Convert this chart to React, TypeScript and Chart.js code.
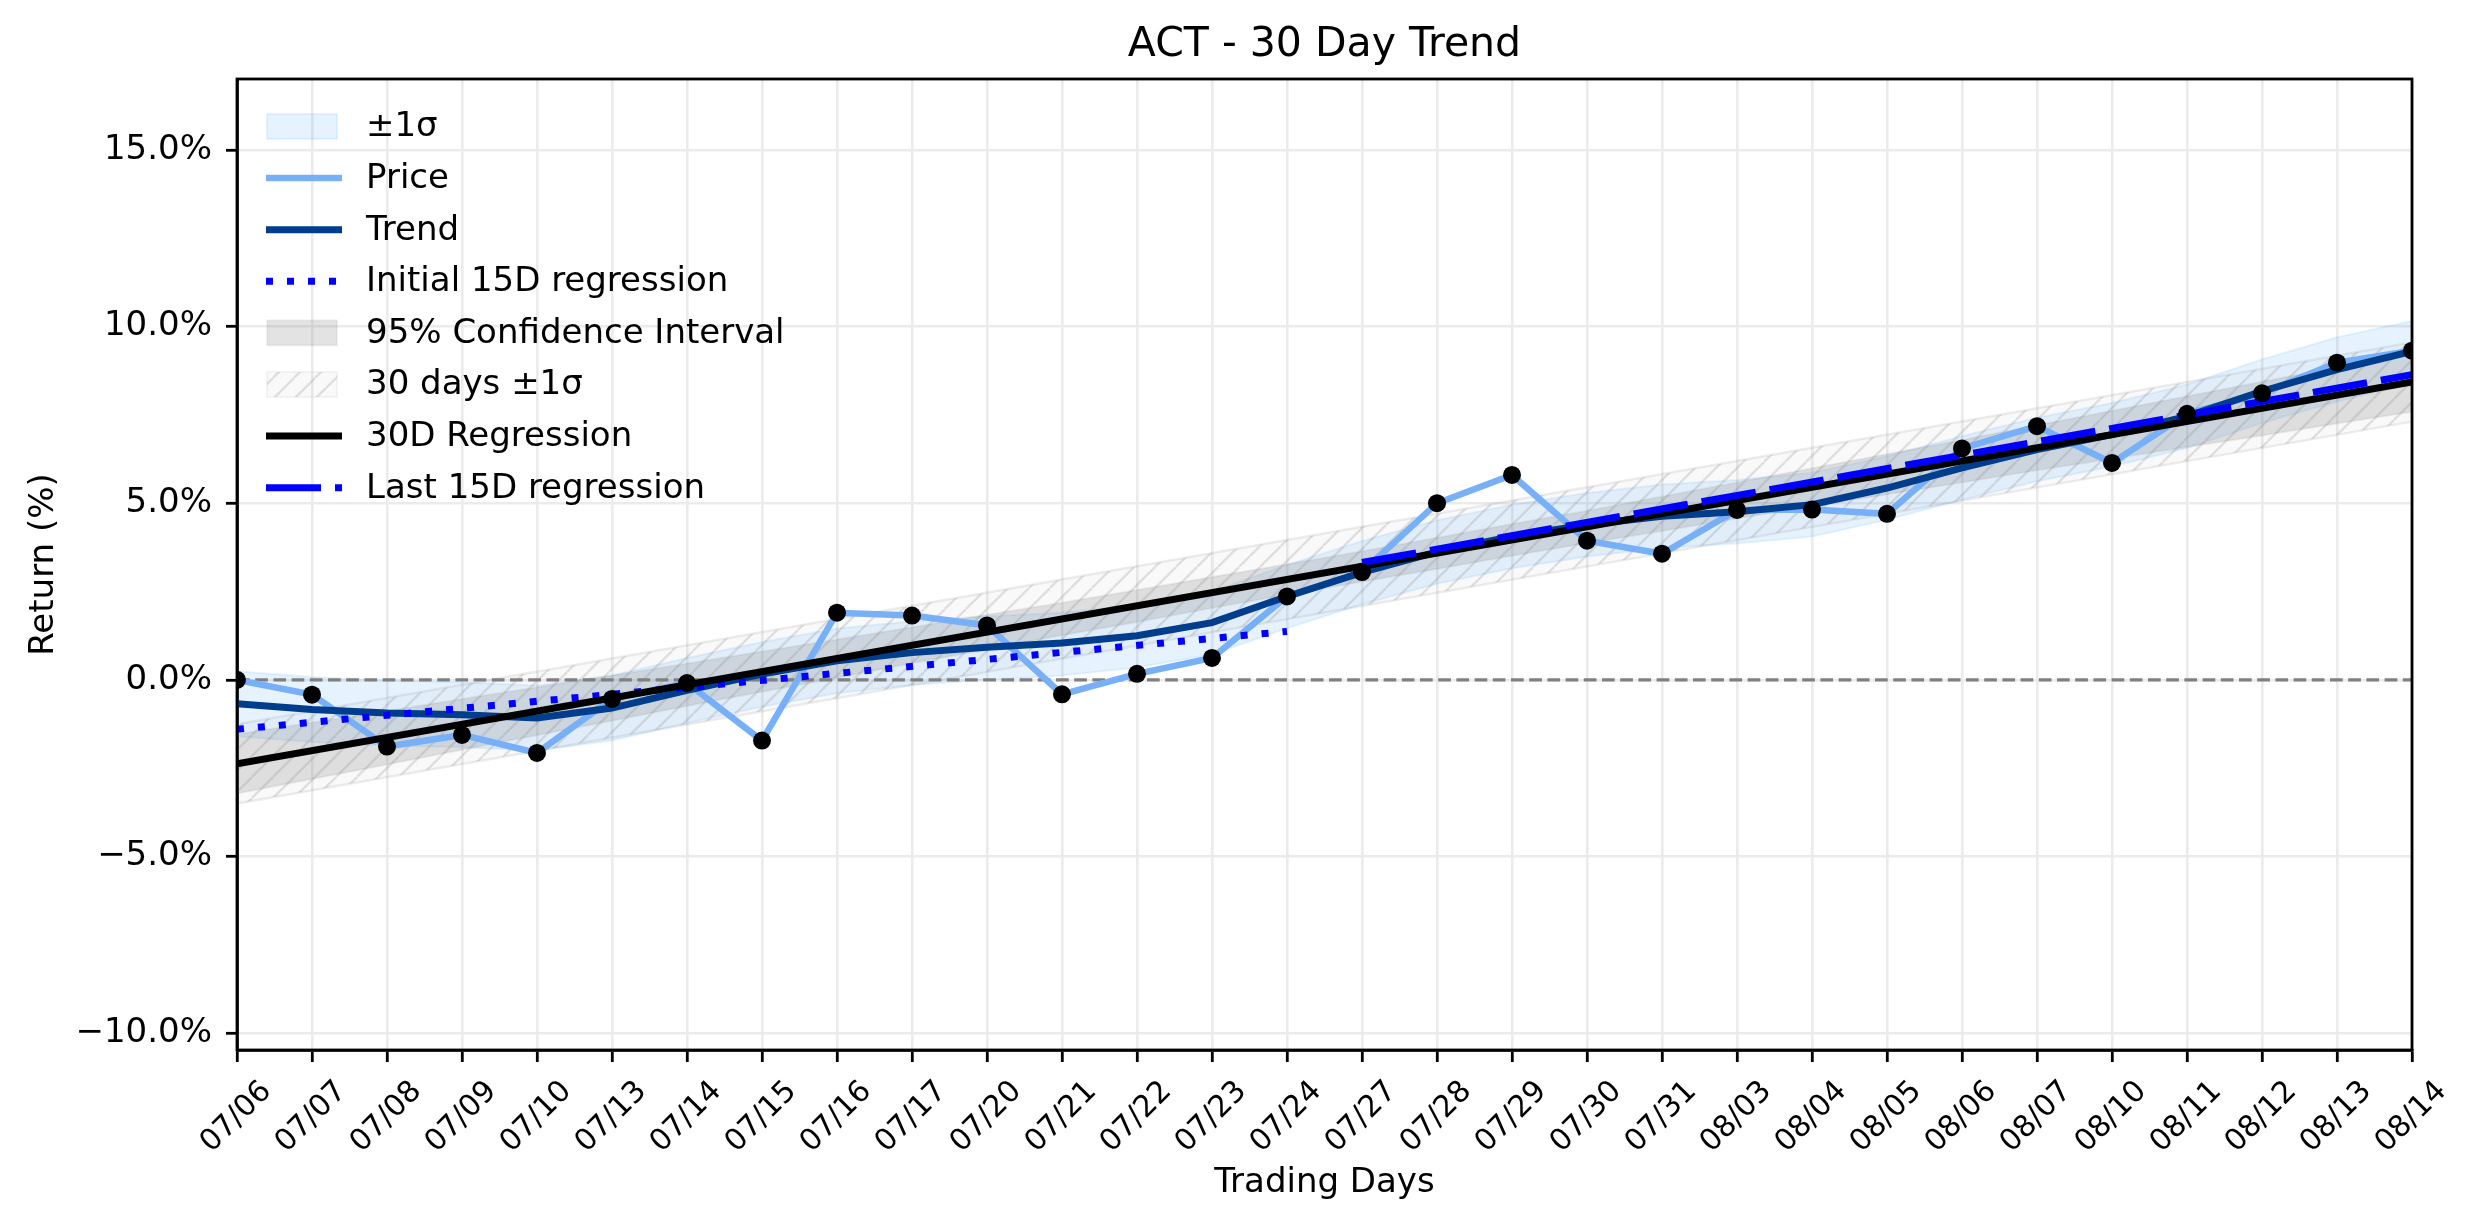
import React, { useEffect, useRef } from 'react';
import Chart from 'chart.js/auto';

// trading days on the x axis
const days = [
  '07/06', '07/07', '07/08', '07/09', '07/10', '07/13', '07/14', '07/15', '07/16', '07/17',
  '07/20', '07/21', '07/22', '07/23', '07/24', '07/27', '07/28', '07/29', '07/30', '07/31',
  '08/03', '08/04', '08/05', '08/06', '08/07', '08/10', '08/11', '08/12', '08/13', '08/14',
];

// cumulative return (%)
const priceReturn = [
  0.0, -0.42, -1.89, -1.56, -2.07, -0.54, -0.09, -1.72, 1.9, 1.82,
  1.54, -0.41, 0.17, 0.62, 2.36, 3.05, 5.0, 5.8, 3.94, 3.57,
  4.81, 4.82, 4.7, 6.55, 7.18, 6.14, 7.53, 8.11, 8.98, 9.32,
];

const trend = [
  -0.68, -0.84, -0.94, -0.99, -1.08, -0.8, -0.3, 0.16, 0.54, 0.77,
  0.92, 1.04, 1.25, 1.62, 2.36, 3.04, 3.62, 4.06, 4.39, 4.63,
  4.76, 4.96, 5.43, 6.0, 6.52, 6.94, 7.46, 8.17, 8.78, 9.3,
];

// ±1σ band round the trend
const sigmaUpper = [
  0.24, 0.08, -0.02, -0.07, -0.16, 0.12, 0.62, 1.07, 1.45, 1.66,
  1.8, 1.9, 2.12, 2.5, 3.25, 3.93, 4.52, 4.96, 5.29, 5.53,
  5.66, 5.86, 6.33, 6.9, 7.42, 7.84, 8.36, 9.07, 9.7, 10.16,
];
const sigmaLower = [
  -1.6, -1.76, -1.86, -1.91, -2.0, -1.72, -1.22, -0.76, -0.38, -0.15,
  0.0, 0.12, 0.35, 0.72, 1.46, 2.14, 2.72, 3.16, 3.49, 3.73,
  3.86, 4.06, 4.53, 5.1, 5.62, 6.04, 6.56, 7.27, 7.88, 8.4,
];

// 95% confidence interval of the 30D regression
const ciUpper = [
  -1.54, -1.21, -0.88, -0.54, -0.21, 0.12, 0.46, 0.8, 1.14, 1.49,
  1.84, 2.18, 2.54, 2.91, 3.27, 3.64, 4.02, 4.41, 4.79, 5.19,
  5.59, 5.99, 6.39, 6.79, 7.21, 7.62, 8.03, 8.44, 8.86, 9.27,
];
const ciLower = [
  -3.22, -2.81, -2.4, -1.98, -1.57, -1.16, -0.74, -0.34, 0.06, 0.47,
  0.86, 1.26, 1.64, 2.03, 2.41, 2.78, 3.14, 3.51, 3.87, 4.21,
  4.57, 4.91, 5.25, 5.59, 5.93, 6.26, 6.59, 6.92, 7.26, 7.59,
];

// straight lines: value at first and last day of their span
const reg30 = [-2.38, 8.43];
const band30Upper = [-1.26, 9.55];
const band30Lower = [-3.5, 7.31];
const initial15 = [-1.4, 1.37]; // 07/06 -> 07/24
const last15 = [3.32, 8.64]; // 07/27 -> 08/14
const zeroLine = [0, 0];

const yTicks = [-10, -5, 0, 5, 10, 15];

const FONT = '"DejaVu Sans", sans-serif';

const ends = (from: string, to: string, vals: number[]) => [
  { x: from, y: vals[0] },
  { x: to, y: vals[1] },
];

const makeHatch = (): CanvasPattern | string => {
  const s = 21;
  const c = document.createElement('canvas');
  c.width = s;
  c.height = s;
  const g = c.getContext('2d');
  if (!g) return 'rgba(128,128,128,0.05)';
  g.fillStyle = 'rgba(128,128,128,0.05)';
  g.fillRect(0, 0, s, s);
  g.strokeStyle = 'rgba(128,128,128,0.22)';
  g.lineWidth = 2.3;
  for (let k = -1; k <= 1; k++) {
    g.beginPath();
    g.moveTo(k * s, s);
    g.lineTo(k * s + s, 0);
    g.stroke();
  }
  return g.createPattern(c, 'repeat') || 'rgba(128,128,128,0.05)';
};

const SIGMA_FILL = 'rgba(30,144,255,0.11)';
const CI_FILL = 'rgba(128,128,128,0.22)';

type LegendRow = {
  label: string;
  kind: 'patch' | 'line';
  fill?: string | CanvasPattern;
  edge?: string;
  color?: string;
  width?: number;
  dash?: number[];
};

// legend drawn inside the axes, top left, like matplotlib
const innerLegend = {
  id: 'innerLegend',
  afterDatasetsDraw(chart: any) {
    const rows: LegendRow[] = chart.options.plugins.innerLegend.rows;
    const { ctx, chartArea } = chart;
    ctx.save();
    ctx.font = `34px ${FONT}`;
    ctx.fillStyle = '#000';
    ctx.textBaseline = 'middle';
    rows.forEach((row, i) => {
      const y = chartArea.top + 47.5 + i * 51.6;
      const x0 = chartArea.left + 29;
      if (row.kind === 'patch') {
        ctx.fillStyle = row.fill;
        ctx.fillRect(x0 + 1, y - 12.5, 70, 25);
        ctx.strokeStyle = row.edge;
        ctx.lineWidth = 2;
        ctx.strokeRect(x0 + 1, y - 12.5, 70, 25);
      } else {
        ctx.strokeStyle = row.color;
        ctx.lineWidth = row.width;
        ctx.lineCap = 'butt';
        ctx.setLineDash(row.dash || []);
        ctx.beginPath();
        ctx.moveTo(x0, y);
        ctx.lineTo(x0 + 76, y);
        ctx.stroke();
        ctx.setLineDash([]);
      }
      ctx.fillStyle = '#000';
      ctx.fillText(row.label, chartArea.left + 129, y + 1);
    });
    ctx.restore();
  },
};

// full box round the plot area
const frame = {
  id: 'frame',
  afterDatasetsDraw(chart: any) {
    const { ctx, chartArea } = chart;
    ctx.save();
    ctx.strokeStyle = '#000';
    ctx.lineWidth = 2.8;
    ctx.strokeRect(chartArea.left, chartArea.top, chartArea.right - chartArea.left, chartArea.bottom - chartArea.top);
    ctx.restore();
  },
};

const TrendChart: React.FC = () => {
  const chartRef = useRef<HTMLCanvasElement>(null);
  const chartInstance = useRef<Chart | null>(null);

  useEffect(() => {
    if (!chartRef.current) return;
    if (chartInstance.current) chartInstance.current.destroy();
    const ctx = chartRef.current.getContext('2d');
    if (!ctx) return;

    const hatch = makeHatch();
    const first = days[0];
    const last = days[days.length - 1];

    const legendRows: LegendRow[] = [
      { label: '±1σ', kind: 'patch', fill: SIGMA_FILL, edge: 'rgba(30,144,255,0.1)' },
      { label: 'Price', kind: 'line', color: '#78b0f8', width: 6.5 },
      { label: 'Trend', kind: 'line', color: '#003d8c', width: 7 },
      { label: 'Initial 15D regression', kind: 'line', color: '#0000ff', width: 7, dash: [7, 14] },
      { label: '95% Confidence Interval', kind: 'patch', fill: CI_FILL, edge: 'rgba(128,128,128,0.1)' },
      { label: '30 days ±1σ', kind: 'patch', fill: hatch, edge: 'rgba(128,128,128,0.08)' },
      { label: '30D Regression', kind: 'line', color: '#000000', width: 7 },
      { label: 'Last 15D regression', kind: 'line', color: '#0000ff', width: 7, dash: [55, 14] },
    ];

    chartInstance.current = new Chart(ctx, {
      type: 'line',
      data: {
        labels: days,
        datasets: [
          {
            label: '±1σ',
            data: sigmaUpper,
            borderColor: 'rgba(30,144,255,0.1)',
            borderWidth: 2,
            backgroundColor: SIGMA_FILL,
            fill: '+1',
            pointRadius: 0,
            order: 10,
          },
          {
            label: '±1σ lower',
            data: sigmaLower,
            borderColor: 'rgba(30,144,255,0.1)',
            borderWidth: 2,
            pointRadius: 0,
            fill: false,
            order: 10,
          },
          {
            label: '95% Confidence Interval',
            data: ciUpper,
            borderColor: 'rgba(128,128,128,0.12)',
            borderWidth: 2,
            backgroundColor: CI_FILL,
            fill: '+1',
            pointRadius: 0,
            order: 9,
          },
          {
            label: 'CI lower',
            data: ciLower,
            borderColor: 'rgba(128,128,128,0.12)',
            borderWidth: 2,
            pointRadius: 0,
            fill: false,
            order: 9,
          },
          {
            label: '30 days ±1σ',
            data: ends(first, last, band30Upper),
            borderColor: 'rgba(128,128,128,0.14)',
            borderWidth: 2.4,
            backgroundColor: hatch,
            fill: '+1',
            pointRadius: 0,
            order: 8,
          },
          {
            label: '30 days lower',
            data: ends(first, last, band30Lower),
            borderColor: 'rgba(128,128,128,0.14)',
            borderWidth: 2.4,
            pointRadius: 0,
            fill: false,
            order: 8,
          },
          {
            label: 'zero',
            data: ends(first, last, zeroLine),
            borderColor: '#808080',
            borderWidth: 3.4,
            borderDash: [12.7, 5.5],
            pointRadius: 0,
            fill: false,
            order: 7,
          },
          {
            label: 'Price',
            data: priceReturn,
            borderColor: '#78b0f8',
            borderWidth: 6.5,
            pointRadius: 0,
            fill: false,
            order: 6,
          },
          {
            label: 'Trend',
            data: trend,
            borderColor: '#003d8c',
            borderWidth: 7,
            pointRadius: 0,
            fill: false,
            order: 5,
          },
          {
            label: 'Initial 15D regression',
            data: ends(first, '07/24', initial15),
            borderColor: '#0000ff',
            borderWidth: 7,
            borderDash: [7, 14],
            borderCapStyle: 'butt',
            pointRadius: 0,
            fill: false,
            order: 4,
          },
          {
            label: '30D Regression',
            data: ends(first, last, reg30),
            borderColor: '#000000',
            borderWidth: 7,
            pointRadius: 0,
            fill: false,
            order: 3,
          },
          {
            label: 'Last 15D regression',
            data: ends('07/27', last, last15),
            borderColor: '#0000ff',
            borderWidth: 7,
            borderDash: [55, 14],
            pointRadius: 0,
            fill: false,
            order: 2,
          },
          {
            label: 'points',
            data: priceReturn,
            showLine: false,
            pointRadius: 9,
            pointBackgroundColor: '#000',
            pointBorderWidth: 0,
            pointHoverRadius: 9,
            order: 1,
          },
        ].map((ds) => ({ ...ds, tension: 0, clip: 0 })) as any,
      },
      options: {
        animation: false,
        responsive: true,
        maintainAspectRatio: false,
        devicePixelRatio: 1,
        events: [],
        layout: { padding: { left: 0, right: 62, top: 0, bottom: 0 } },
        font: { family: FONT },
        plugins: {
          legend: { display: false },
          tooltip: { enabled: false },
          title: {
            display: true,
            fullSize: false,
            text: 'ACT - 30 Day Trend',
            color: '#000',
            font: { family: FONT, size: 41, weight: 'normal' },
            padding: { top: 21, bottom: 8.8 },
          },
          innerLegend: { rows: legendRows },
        } as any,
        scales: {
          x: {
            type: 'category',
            offset: false,
            grid: {
              color: '#ebebeb',
              lineWidth: 2.6,
              tickColor: '#000',
              tickWidth: 2.8,
              tickLength: 12,
              offset: false,
            },
            border: { display: true, color: '#000', width: 2.8 },
            ticks: {
              autoSkip: false,
              minRotation: 45,
              maxRotation: 45,
              color: '#000',
              padding: 12,
              labelOffset: 30,
              font: { family: FONT, size: 30 },
            },
            title: {
              display: true,
              text: 'Trading Days',
              color: '#000',
              font: { family: FONT, size: 34 },
              padding: { top: 0, bottom: 20.5 },
            },
            afterFit: (scale: any) => {
              scale.height = 174;
            },
          },
          y: {
            min: -10.48,
            max: 17.01,
            grid: {
              color: '#ebebeb',
              lineWidth: 2.6,
              tickColor: '#000',
              tickWidth: 2.8,
              tickLength: 11,
            },
            border: { display: true, color: '#000', width: 2.8 },
            ticks: {
              color: '#000',
              padding: 14,
              font: { family: FONT, size: 34 },
              callback: (v: any) => `${Number(v).toFixed(1)}%`.replace('-', '\u2212'),
            },
            afterBuildTicks: (scale: any) => {
              scale.ticks = yTicks.map((value) => ({ value }));
            },
            title: {
              display: true,
              text: 'Return (%)',
              color: '#000',
              font: { family: FONT, size: 34 },
              padding: { top: 23.6, bottom: 0 },
            },
            afterFit: (scale: any) => {
              scale.width = 237;
            },
          },
        },
      },
      plugins: [innerLegend, frame],
    });

    return () => {
      if (chartInstance.current) {
        chartInstance.current.destroy();
        chartInstance.current = null;
      }
    };
  }, []);

  return (
    <div style={{ position: 'absolute', left: 0, top: 0, width: 2474, height: 1224, background: '#fff' }}>
      <canvas ref={chartRef} />
    </div>
  );
};

export default function App() {
  return <TrendChart />;
}
